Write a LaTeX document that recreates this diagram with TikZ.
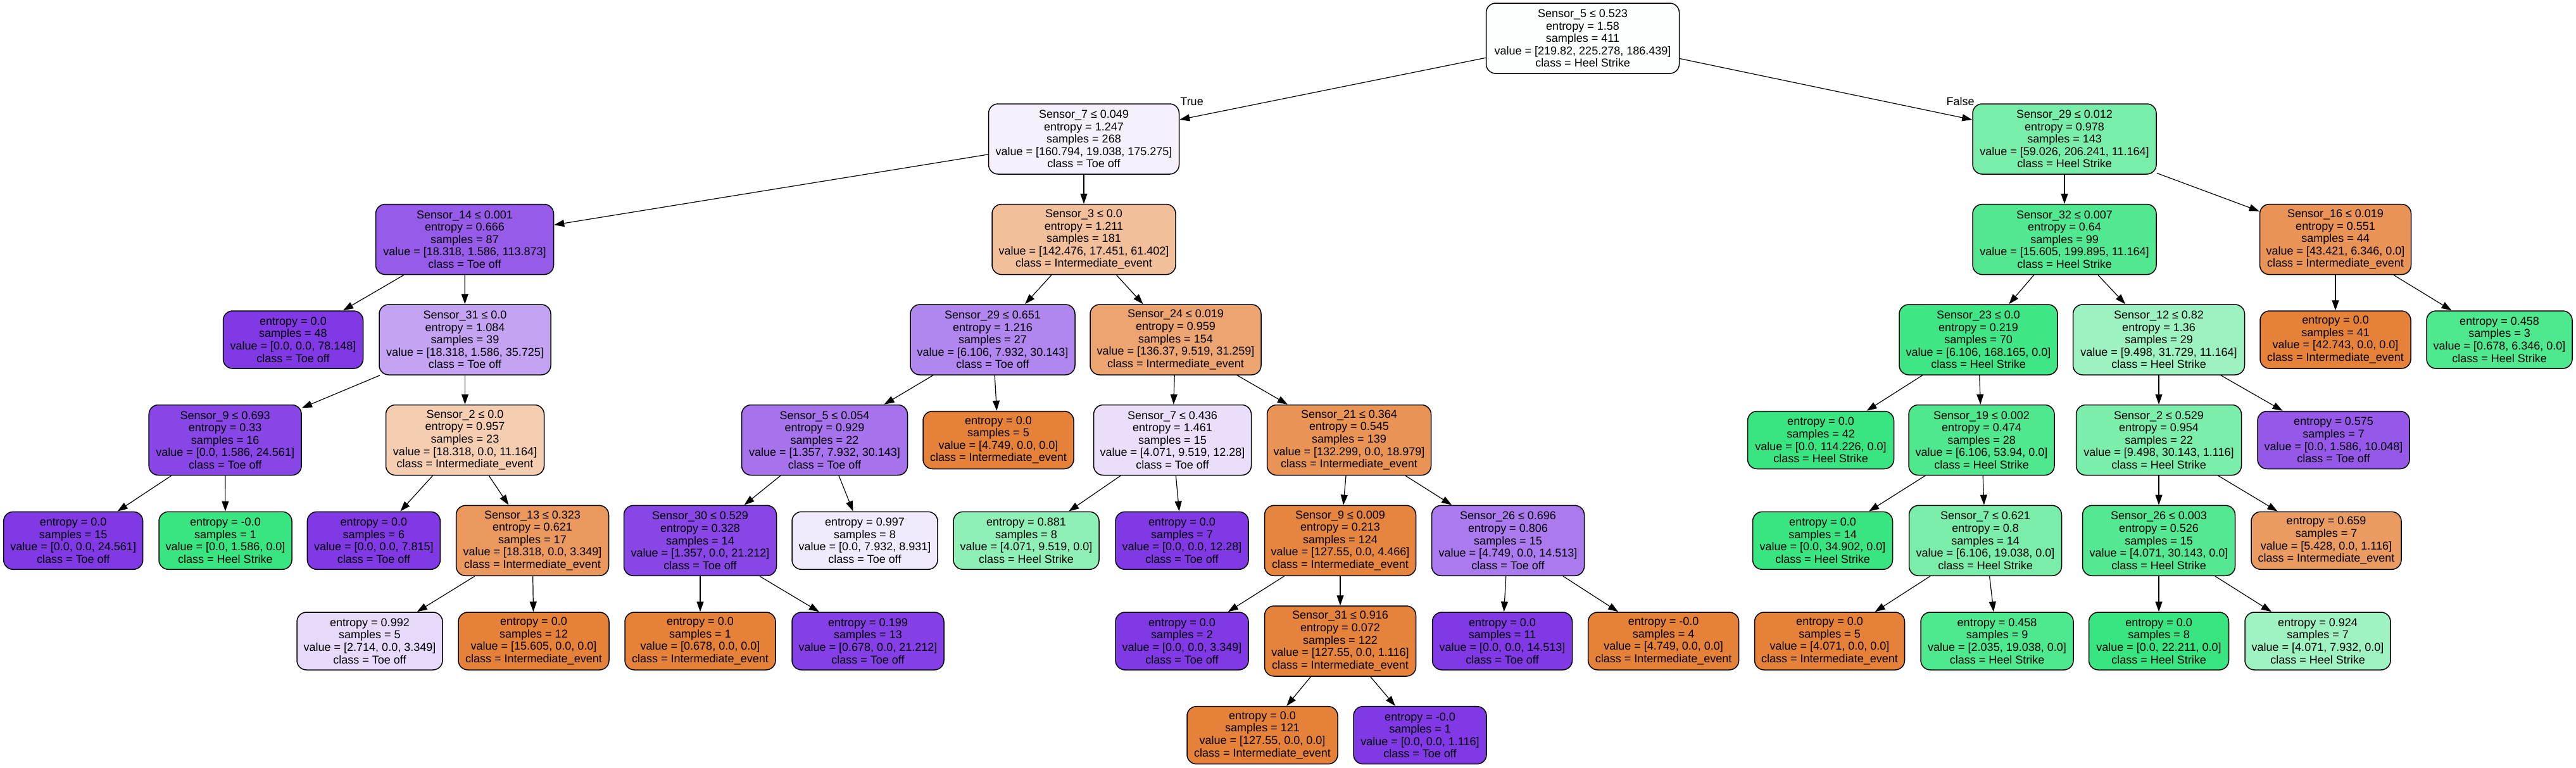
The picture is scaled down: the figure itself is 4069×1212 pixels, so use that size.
\documentclass[tikz,border=0pt]{standalone}
\usepackage{fontspec}
\setmainfont{Liberation Sans}
\usetikzlibrary{arrows.meta}
\newcommand\ntxt[5]{#1\\entropy = #2\\samples = #3\\value = [#4]\\class = #5}
\newcommand\lftxt[4]{entropy = #1\\samples = #2\\value = [#3]\\class = #4}
\definecolor{cie}{RGB}{229,129,57}
\definecolor{chs}{RGB}{57,229,129}
\definecolor{cto}{RGB}{129,57,229}
\begin{document}
\begin{tikzpicture}[x=0.5pt,y=-0.5pt,
  box/.style={draw=black, line width=0.75pt, rounded corners=7.5pt, align=center,
    font=\fontsize{9}{9.8}\selectfont, inner sep=0pt, minimum height=55.5pt},
  leafbox/.style={box, minimum height=45.5pt},
  wd/.style={minimum width=#1*0.5pt},
  conn/.style={line width=0.6pt, -{Triangle[length=8pt,width=5.5pt]}},
  lbl/.style={font=\fontsize{9}{9.8}\selectfont, inner sep=0pt}]
\useasboundingbox (0,0) rectangle (4069,1212);
% row 0
\node[box, wd=305, fill={rgb,255:red,252;green,255;blue,253}] (n0) at (2500,60.5) {\ntxt{Sensor\_5 ≤ 0.523}{1.58}{411}{219.82, 225.278, 186.439}{Heel Strike}};
% row 1
\node[box, wd=301, fill={rgb,255:red,246;green,240;blue,253}] (n1) at (1712,219.5) {\ntxt{Sensor\_7 ≤ 0.049}{1.247}{268}{160.794, 19.038, 175.275}{Toe off}};
\node[box, wd=290, fill={rgb,255:red,121;green,237;blue,170}] (n2) at (3261,219.5) {\ntxt{Sensor\_29 ≤ 0.012}{0.978}{143}{59.026, 206.241, 11.164}{Heel Strike}};
% row 2
\node[box, wd=281, fill={rgb,255:red,151;green,91;blue,233}] (n3) at (734,378.1) {\ntxt{Sensor\_14 ≤ 0.001}{0.666}{87}{18.318, 1.586, 113.873}{Toe off}};
\node[box, wd=290, fill={rgb,255:red,242;green,191;blue,155}] (n4) at (1712,378.1) {\ntxt{Sensor\_3 ≤ 0.0}{1.211}{181}{142.476, 17.451, 61.402}{Intermediate\_event}};
\node[box, wd=290, fill={rgb,255:red,82;green,232;blue,145}] (n5) at (3261,378.1) {\ntxt{Sensor\_32 ≤ 0.007}{0.64}{99}{15.605, 199.895, 11.164}{Heel Strike}};
\node[box, wd=239, fill={rgb,255:red,233;green,147;blue,86}] (n6) at (3689,378.1) {\ntxt{Sensor\_16 ≤ 0.019}{0.551}{44}{43.421, 6.346, 0.0}{Intermediate\_event}};
% row 3
\node[leafbox, wd=221, fill=cto] (n7) at (463,536.5) {\lftxt{0.0}{48}{0.0, 0.0, 78.148}{Toe off}};
\node[box, wd=271, fill={rgb,255:red,196;green,163;blue,243}] (n8) at (734.5,536.5) {\ntxt{Sensor\_31 ≤ 0.0}{1.084}{39}{18.318, 1.586, 35.725}{Toe off}};
\node[box, wd=260, fill={rgb,255:red,178;green,134;blue,239}] (n9) at (1568,536.5) {\ntxt{Sensor\_29 ≤ 0.651}{1.216}{27}{6.106, 7.932, 30.143}{Toe off}};
\node[box, wd=270, fill={rgb,255:red,236;green,164;blue,112}] (n10) at (1857,536.5) {\ntxt{Sensor\_24 ≤ 0.019}{0.959}{154}{136.37, 9.519, 31.259}{Intermediate\_event}};
\node[box, wd=250, fill={rgb,255:red,64;green,230;blue,134}] (n11) at (3125,536.5) {\ntxt{Sensor\_23 ≤ 0.0}{0.219}{70}{6.106, 168.165, 0.0}{Heel Strike}};
\node[box, wd=271, fill={rgb,255:red,156;green,242;blue,192}] (n12) at (3410,536.5) {\ntxt{Sensor\_12 ≤ 0.82}{1.36}{29}{9.498, 31.729, 11.164}{Heel Strike}};
\node[leafbox, wd=238, fill=cie] (n13) at (3689,536.5) {\lftxt{0.0}{41}{42.743, 0.0, 0.0}{Intermediate\_event}};
\node[leafbox, wd=230, fill={rgb,255:red,78;green,232;blue,142}] (n14) at (3948,536.5) {\lftxt{0.458}{3}{0.678, 6.346, 0.0}{Heel Strike}};
% row 4
\node[box, wd=241, fill={rgb,255:red,137;green,70;blue,231}] (n15) at (355.7,695) {\ntxt{Sensor\_9 ≤ 0.693}{0.33}{16}{0.0, 1.586, 24.561}{Toe off}};
\node[box, wd=250, fill={rgb,255:red,245;green,206;blue,178}] (n16) at (734.5,695) {\ntxt{Sensor\_2 ≤ 0.0}{0.957}{23}{18.318, 0.0, 11.164}{Intermediate\_event}};
\node[box, wd=262, fill={rgb,255:red,166;green,115;blue,237}] (n17) at (1302.5,695) {\ntxt{Sensor\_5 ≤ 0.054}{0.929}{22}{1.357, 7.932, 30.143}{Toe off}};
\node[leafbox, wd=238, fill=cie] (n18) at (1577,695) {\lftxt{0.0}{5}{4.749, 0.0, 0.0}{Intermediate\_event}};
\node[box, wd=249, fill={rgb,255:red,234;green,222;blue,251}] (n19) at (1852,695) {\ntxt{Sensor\_7 ≤ 0.436}{1.461}{15}{4.071, 9.519, 12.28}{Toe off}};
\node[box, wd=259, fill={rgb,255:red,233;green,147;blue,85}] (n20) at (2131,695) {\ntxt{Sensor\_21 ≤ 0.364}{0.545}{139}{132.299, 0.0, 18.979}{Intermediate\_event}};
\node[leafbox, wd=231, fill=chs] (n21) at (2876,695) {\lftxt{0.0}{42}{0.0, 114.226, 0.0}{Heel Strike}};
\node[box, wd=230, fill={rgb,255:red,79;green,232;blue,143}] (n22) at (3130,695) {\ntxt{Sensor\_19 ≤ 0.002}{0.474}{28}{6.106, 53.94, 0.0}{Heel Strike}};
\node[box, wd=261, fill={rgb,255:red,124;green,238;blue,172}] (n23) at (3410,695) {\ntxt{Sensor\_2 ≤ 0.529}{0.954}{22}{9.498, 30.143, 1.116}{Heel Strike}};
\node[leafbox, wd=240, fill={rgb,255:red,149;green,88;blue,233}] (n24) at (3686,695) {\lftxt{0.575}{7}{0.0, 1.586, 10.048}{Toe off}};
% row 5
\node[leafbox, wd=220, fill=cto] (n25) at (115.7,853.8) {\lftxt{0.0}{15}{0.0, 0.0, 24.561}{Toe off}};
\node[leafbox, wd=210, fill=chs] (n26) at (356,853.8) {\lftxt{-0.0}{1}{0.0, 1.586, 0.0}{Heel Strike}};
\node[leafbox, wd=210, fill=cto] (n27) at (590.4,853.8) {\lftxt{0.0}{6}{0.0, 0.0, 7.815}{Toe off}};
\node[box, wd=241, fill={rgb,255:red,234;green,152;blue,93}] (n28) at (841,853.8) {\ntxt{Sensor\_13 ≤ 0.323}{0.621}{17}{18.318, 0.0, 3.349}{Intermediate\_event}};
\node[box, wd=241, fill={rgb,255:red,137;green,70;blue,231}] (n29) at (1106,853.8) {\ntxt{Sensor\_30 ≤ 0.529}{0.328}{14}{1.357, 0.0, 21.212}{Toe off}};
\node[leafbox, wd=230, fill={rgb,255:red,241;green,233;blue,252}] (n30) at (1366,853.8) {\lftxt{0.997}{8}{0.0, 7.932, 8.931}{Toe off}};
\node[leafbox, wd=230, fill={rgb,255:red,142;green,240;blue,183}] (n31) at (1621,853.8) {\lftxt{0.881}{8}{4.071, 9.519, 0.0}{Heel Strike}};
\node[leafbox, wd=210, fill=cto] (n32) at (1867,853.8) {\lftxt{0.0}{7}{0.0, 0.0, 12.28}{Toe off}};
\node[box, wd=239, fill={rgb,255:red,230;green,133;blue,64}] (n33) at (2117,853.8) {\ntxt{Sensor\_9 ≤ 0.009}{0.213}{124}{127.55, 0.0, 4.466}{Intermediate\_event}};
\node[box, wd=241, fill={rgb,255:red,170;green,122;blue,238}] (n34) at (2382,853.8) {\ntxt{Sensor\_26 ≤ 0.696}{0.806}{15}{4.749, 0.0, 14.513}{Toe off}};
\node[leafbox, wd=221, fill=chs] (n35) at (2879,853.8) {\lftxt{0.0}{14}{0.0, 34.902, 0.0}{Heel Strike}};
\node[box, wd=241, fill={rgb,255:red,121;green,237;blue,169}] (n36) at (3136,853.8) {\ntxt{Sensor\_7 ≤ 0.621}{0.8}{14}{6.106, 19.038, 0.0}{Heel Strike}};
\node[box, wd=241, fill={rgb,255:red,84;green,232;blue,146}] (n37) at (3410,853.8) {\ntxt{Sensor\_26 ≤ 0.003}{0.526}{15}{4.071, 30.143, 0.0}{Heel Strike}};
\node[leafbox, wd=237, fill={rgb,255:red,234;green,155;blue,98}] (n38) at (3674.5,853.8) {\lftxt{0.659}{7}{5.428, 0.0, 1.116}{Intermediate\_event}};
% row 6
\node[leafbox, wd=230, fill={rgb,255:red,231;green,217;blue,250}] (n39) at (584,1012.5) {\lftxt{0.992}{5}{2.714, 0.0, 3.349}{Toe off}};
\node[leafbox, wd=238, fill=cie] (n40) at (843,1012.5) {\lftxt{0.0}{12}{15.605, 0.0, 0.0}{Intermediate\_event}};
\node[leafbox, wd=238, fill=cie] (n41) at (1106,1012.5) {\lftxt{0.0}{1}{0.678, 0.0, 0.0}{Intermediate\_event}};
\node[leafbox, wd=240, fill={rgb,255:red,133;green,63;blue,230}] (n42) at (1371,1012.5) {\lftxt{0.199}{13}{0.678, 0.0, 21.212}{Toe off}};
\node[leafbox, wd=210, fill=cto] (n43) at (1867,1012.5) {\lftxt{0.0}{2}{0.0, 0.0, 3.349}{Toe off}};
\node[box, wd=239, fill={rgb,255:red,229;green,130;blue,59}] (n44) at (2117,1012.5) {\ntxt{Sensor\_31 ≤ 0.916}{0.072}{122}{127.55, 0.0, 1.116}{Intermediate\_event}};
\node[leafbox, wd=221, fill=cto] (n45) at (2373,1012.5) {\lftxt{0.0}{11}{0.0, 0.0, 14.513}{Toe off}};
\node[leafbox, wd=238, fill=cie] (n46) at (2627.6,1012.5) {\lftxt{-0.0}{4}{4.749, 0.0, 0.0}{Intermediate\_event}};
\node[leafbox, wd=237, fill=cie] (n47) at (2890,1012.5) {\lftxt{0.0}{5}{4.071, 0.0, 0.0}{Intermediate\_event}};
\node[leafbox, wd=241, fill={rgb,255:red,78;green,232;blue,142}] (n48) at (3154.5,1012.5) {\lftxt{0.458}{9}{2.035, 19.038, 0.0}{Heel Strike}};
\node[leafbox, wd=221, fill=chs] (n49) at (3410,1012.5) {\lftxt{0.0}{8}{0.0, 22.211, 0.0}{Heel Strike}};
\node[leafbox, wd=230, fill={rgb,255:red,159;green,242;blue,194}] (n50) at (3661,1012.5) {\lftxt{0.924}{7}{4.071, 7.932, 0.0}{Heel Strike}};
% row 7
\node[leafbox, wd=238, fill=cie] (n51) at (1994,1161.2) {\lftxt{0.0}{121}{127.55, 0.0, 0.0}{Intermediate\_event}};
\node[leafbox, wd=210, fill=cto] (n52) at (2243,1161.2) {\lftxt{-0.0}{1}{0.0, 0.0, 1.116}{Toe off}};
% edge labels
\node[lbl, anchor=base west] (ltrue) at (1864,166.5) {True};
\node[lbl, anchor=base east] (lfalse) at (3119,166.5) {False};
% edges
\foreach \a/\b in {n0/n1, n0/n2, n1/n3, n1/n4, n3/n7, n3/n8, n8/n15, n8/n16,
  n15/n25, n15/n26, n16/n27, n16/n28, n28/n39, n28/n40, n4/n9, n4/n10,
  n9/n17, n9/n18, n17/n29, n17/n30, n29/n41, n29/n42, n10/n19, n10/n20,
  n19/n31, n19/n32, n20/n33, n20/n34, n33/n43, n33/n44, n44/n51, n44/n52,
  n34/n45, n34/n46, n2/n5, n2/n6, n5/n11, n5/n12, n11/n21, n11/n22,
  n22/n35, n22/n36, n36/n47, n36/n48, n12/n23, n12/n24, n23/n37, n23/n38,
  n37/n49, n37/n50, n6/n13, n6/n14}
  \draw[conn] (\a) -- (\b);
\end{tikzpicture}
\end{document}
